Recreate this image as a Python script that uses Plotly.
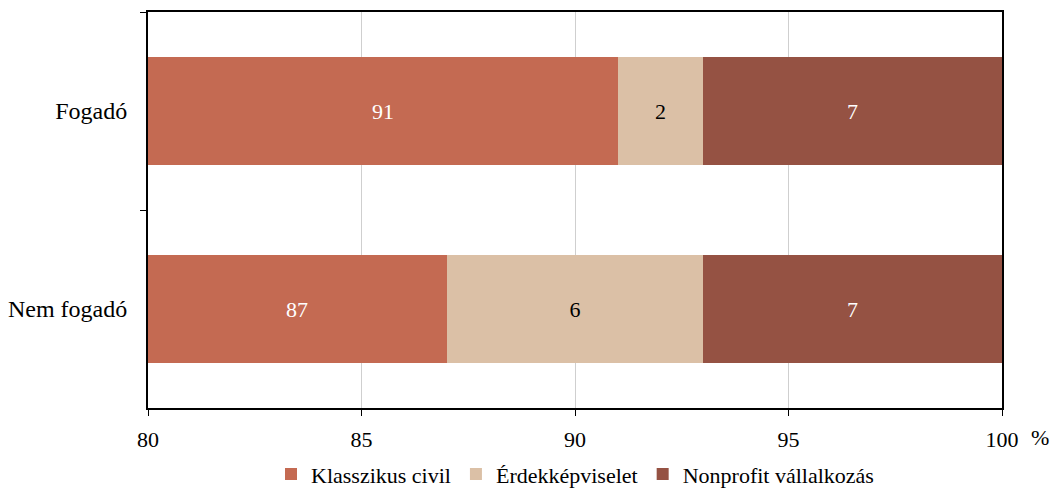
import plotly.graph_objects as go

categories = ["Fogadó", "Nem fogadó"]
klasszikus = [91, 87]
erdek = [2, 6]
nonprofit = [7, 7]
series_names = ["Klasszikus civil", "Érdekképviselet", "Nonprofit vállalkozás"]
colors = ["#C46A52", "#DBC0A6", "#955243"]
x_min, x_max = 80, 100
tick_vals = [80, 85, 90, 95, 100]

FONT = "Liberation Serif"
FS_NUM = 22
FS_CAT = 24
FS_LEG = 22

fig = go.Figure()
fig.add_trace(go.Bar(y=categories, x=klasszikus, orientation="h", name=series_names[0],
                     marker=dict(color=colors[0], line=dict(width=0))))
fig.add_trace(go.Bar(y=categories, x=erdek, orientation="h", name=series_names[1],
                     marker=dict(color=colors[1], line=dict(width=0)),
                     text=[str(v) for v in erdek], textposition="inside",
                     insidetextanchor="middle", constraintext="none",
                     textfont=dict(color="#000000", size=FS_NUM, family=FONT)))
fig.add_trace(go.Bar(y=categories, x=nonprofit, orientation="h", name=series_names[2],
                     marker=dict(color=colors[2], line=dict(width=0)),
                     text=[str(v) for v in nonprofit], textposition="inside",
                     insidetextanchor="middle", constraintext="none",
                     textfont=dict(color="#FFFFFF", size=FS_NUM, family=FONT)))

annotations = []
for cat, v in zip(categories, klasszikus):
    annotations.append(dict(x=(x_min + v) / 2, y=cat, xref="x", yref="y", text=str(v),
                            showarrow=False, font=dict(color="#FFFFFF", size=FS_NUM, family=FONT)))
annotations.append(dict(x=1.0, y=0, xref="paper", yref="paper", xanchor="center", yanchor="middle",
                        xshift=38, yshift=-29, text="%", showarrow=False,
                        font=dict(color="#000000", size=FS_NUM, family=FONT)))

fig.update_layout(
    barmode="stack",
    bargap=0.455,
    width=1057, height=490,
    margin=dict(l=148, r=55, t=12, b=82, autoexpand=False),
    paper_bgcolor="white", plot_bgcolor="white",
    font=dict(family=FONT, size=FS_NUM, color="#000000"),
    showlegend=True,
    legend=dict(orientation="h", x=0.5, xanchor="center", xref="paper",
                y=0.032, yanchor="middle", yref="container",
                font=dict(size=FS_LEG, family=FONT), itemwidth=30, traceorder="normal"),
    annotations=annotations,
)
fig.update_xaxes(range=[x_min, x_max], tickvals=tick_vals, showgrid=True, gridcolor="#CFCFCF",
                 gridwidth=1, zeroline=False, showline=True, linecolor="#000000", linewidth=2,
                 mirror=True, ticks="outside", ticklen=6, tickcolor="#000000", tickwidth=1,
                 automargin=False, ticklabelstandoff=5,
                 tickfont=dict(size=FS_NUM, family=FONT))
fig.update_yaxes(categoryorder="array", categoryarray=categories, autorange="reversed",
                 showline=True, linecolor="#000000", linewidth=2, mirror=True,
                 ticks="outside", ticklen=6, tickson="boundaries", tickcolor="#000000",
                 showgrid=False, automargin=False, ticklabelstandoff=14,
                 tickfont=dict(size=FS_CAT, family=FONT))

fig.write_html("out.html", config={"displayModeBar": False},
               post_script="document.body.style.margin='0';document.body.style.padding='0';"
                           "document.body.style.overflow='hidden';")
